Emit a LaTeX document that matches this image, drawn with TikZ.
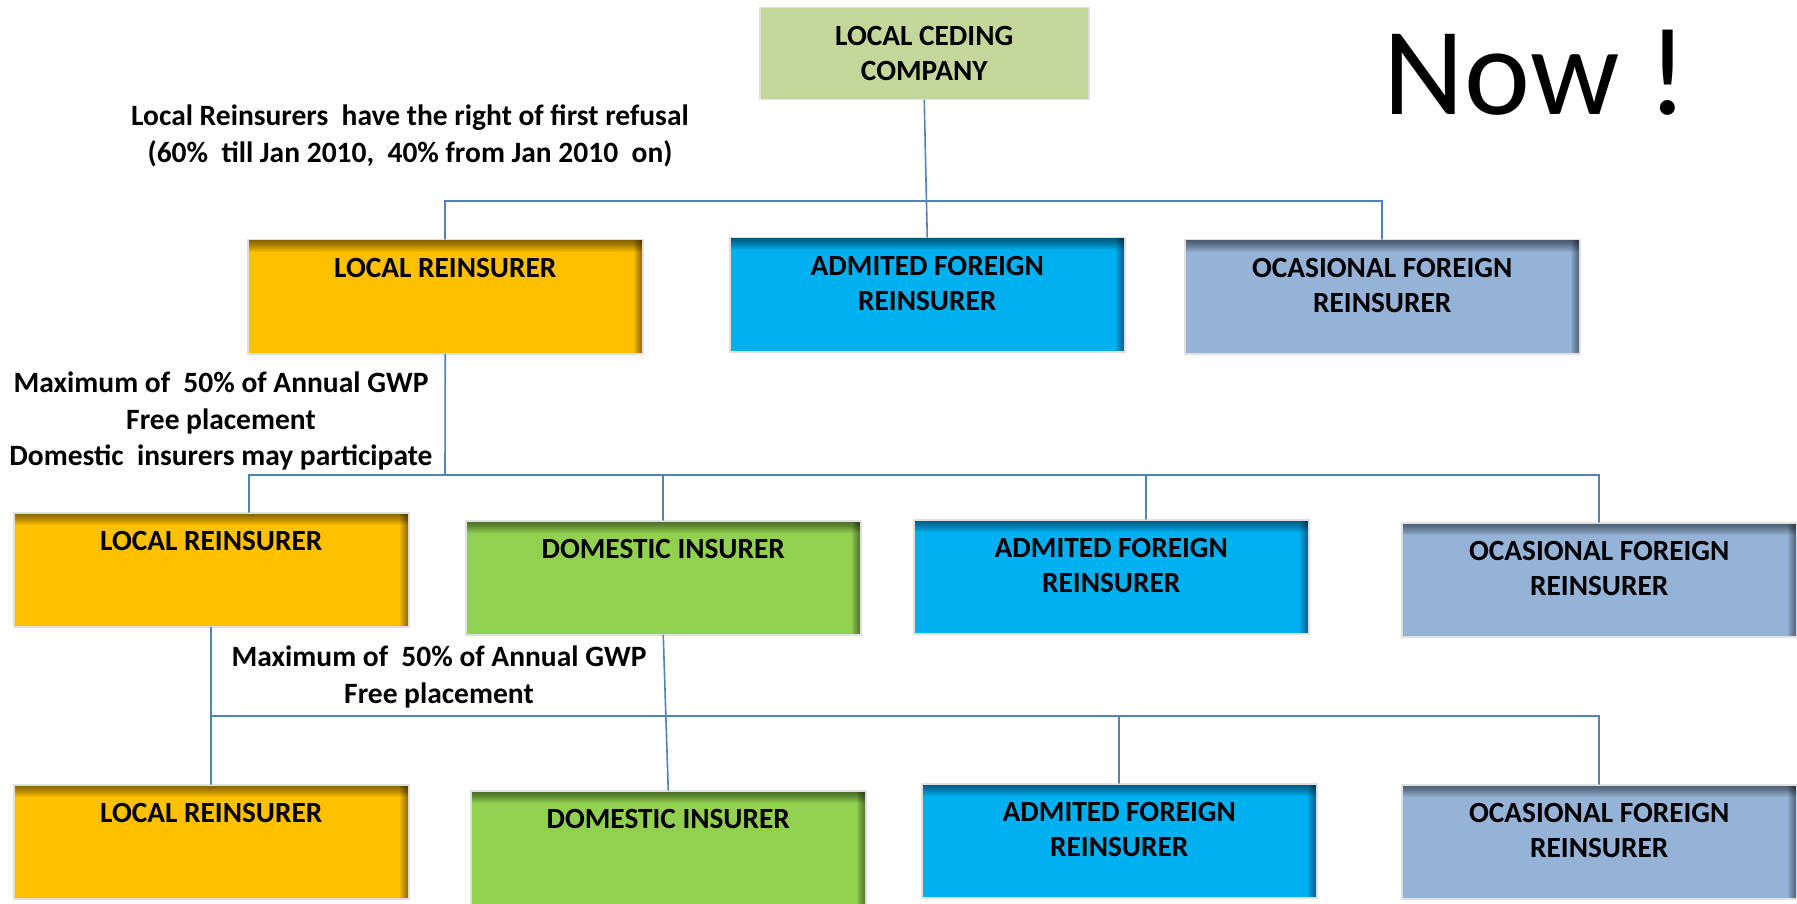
\documentclass[tikz,border=0pt]{standalone}
\usepackage{fontspec}
\setmainfont{Carlito}
\usepackage{tikz}

\definecolor{lrcol}{HTML}{FFC000}
\definecolor{dicol}{HTML}{92D050}
\definecolor{afcol}{HTML}{00B0F0}
\definecolor{ofcol}{HTML}{95B3D7}
\definecolor{cedcol}{HTML}{C4D79B}
\definecolor{linkcol}{HTML}{4F81BD}

\newcommand{\boxfont}{\bfseries\fontsize{29.3}{35}\selectfont}
\newcommand{\notefont}{\bfseries\fontsize{29.5}{36.5}\selectfont}

\begin{document}
\begin{tikzpicture}
		[x=1pt,y=-1pt,line cap=round,
		%Styles
		link/.style={linkcol,line width=1.6pt},
		tier/.style={draw=black!12,line width=1.5pt,fill=#1,minimum width=395pt,minimum height=114pt,
			anchor=north west,inner sep=0pt,
			path picture={
				\foreach \k in {1,...,12}
					\fill[black,opacity=.05] (path picture bounding box.north west) rectangle ([yshift=-\k pt]path picture bounding box.north east);
				\foreach \k in {1,...,9}
					\fill[black,opacity=.06] ([xshift=-\k pt]path picture bounding box.north east) rectangle (path picture bounding box.south east);
			}},
		tag/.style={label={[anchor=north,inner sep=0pt,yshift=-19pt,align=center,font=\boxfont]north:#1}},
		note/.style={align=center,font=\notefont}
		]
		
		\useasboundingbox[fill=white] (0,0) rectangle (1797,904);
		
		%The graphic
		\node[draw=black!12,line width=1.5pt,fill=cedcol,minimum width=329pt,minimum height=92pt,
			anchor=north west,align=center,font=\boxfont] (ceding) at (759,7) {LOCAL CEDING\\COMPANY};
		\node[font=\fontsize{125}{125}\selectfont,anchor=base] (now) at (1536,115) {Now !};
		
		%first tier
		\node[tier=lrcol,tag={LOCAL REINSURER}] (lr1) at (247,239) {};
		\node[tier=afcol,tag={ADMITED FOREIGN\\REINSURER}] (af1) at (729,237) {};
		\node[tier=ofcol,tag={OCASIONAL FOREIGN\\REINSURER}] (of1) at (1184,239) {};
		
		%second tier
		\node[tier=lrcol,tag={LOCAL REINSURER}] (lr2) at (13,512) {};
		\node[tier=dicol,tag={DOMESTIC INSURER}] (di2) at (465,520) {};
		\node[tier=afcol,tag={ADMITED FOREIGN\\REINSURER}] (af2) at (913,519) {};
		\node[tier=ofcol,tag={OCASIONAL FOREIGN\\REINSURER}] (of2) at (1401,522) {};
		
		%third tier
		\node[tier=lrcol,tag={LOCAL REINSURER}] (lr3) at (13,784) {};
		\node[tier=dicol,tag={DOMESTIC INSURER}] (di3) at (470,790) {};
		\node[tier=afcol,tag={ADMITED FOREIGN\\REINSURER}] (af3) at (921,783) {};
		\node[tier=ofcol,tag={OCASIONAL FOREIGN\\REINSURER}] (of3) at (1401,784) {};
		
		%notes
		\node[note] (refusal) at (410,136) {Local Reinsurers\ \ have the right of first refusal\\(60\%\ \ till Jan 2010,\ \ 40\% from Jan 2010\ \ on)};
		\node[note] (quota1) at (221,421) {Maximum of\ \ 50\% of Annual GWP\\Free placement\\Domestic\ \ insurers may participate};
		\node[note] (quota2) at (439,677) {Maximum of\ \ 50\% of Annual GWP\\Free placement};
		
		%links
		\coordinate (bar2) at (445,475);
		\coordinate (bar3) at (211,716);
		\draw[link] (ceding.south) -- (af1.north);
		\draw[link] (lr1.north) -- ++(0,-38) -| (of1.north);
		\draw[link] (lr1.south) -- (bar2);
		\draw[link] ([xshift=38pt]lr2.north) -- ++(0,-37) -| (of2.north);
		\draw[link] (di2.north) -- (di2.north |- bar2);
		\draw[link] ([xshift=35pt]af2.north) -- ([xshift=35pt]af2.north |- bar2);
		\draw[link] (lr2.south) -- (lr3.north);
		\draw[link] (di2.south) -- (di3.north);
		\draw[link] (bar3) -| (of3.north);
		\draw[link] (af3.north |- bar3) -- (af3.north);
	\end{tikzpicture}
\end{document}
